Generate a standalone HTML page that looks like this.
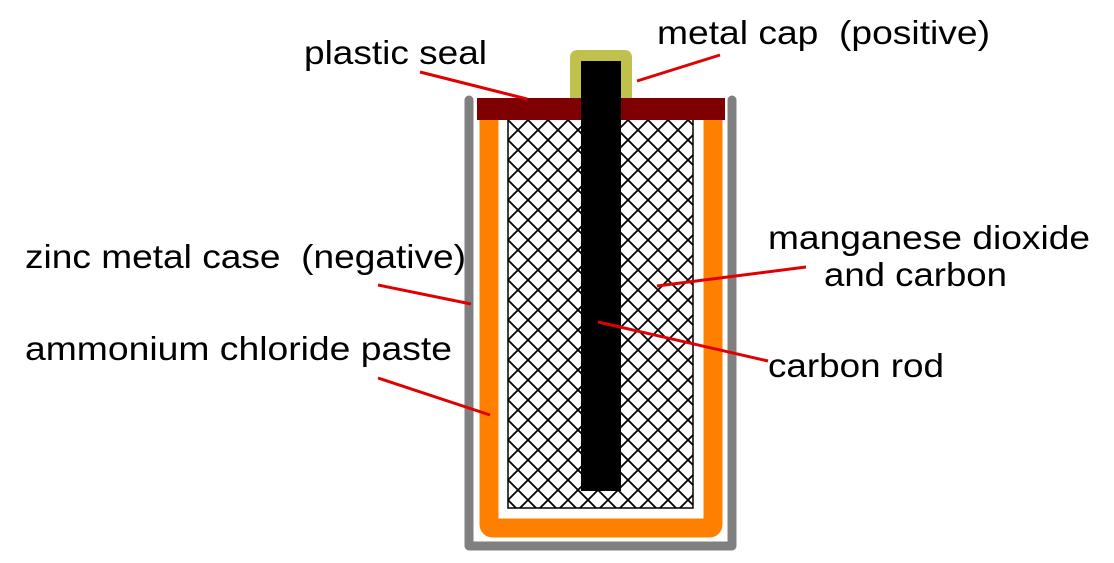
<!DOCTYPE html>
<html><head><meta charset="utf-8"><style>html,body{margin:0;padding:0;background:#fff}svg{display:block}</style></head>
<body>
<svg width="1114" height="563" viewBox="0 0 1114 563" xmlns="http://www.w3.org/2000/svg">
<defs>
<pattern id="h" width="20" height="20" patternUnits="userSpaceOnUse" x="508" y="120">
<rect width="20" height="20" fill="#fff"/>
<path d="M-2,-2L22,22M22,-2L-2,22" stroke="#000" stroke-width="1.8"/>
</pattern>
</defs>
<path d="M469,100 V546 H732 V100" fill="none" stroke="#808080" stroke-width="9" stroke-linecap="round" stroke-linejoin="round"/>
<path d="M489,115 V524 Q489,528 493,528 H709 Q713,528 713,524 V115" fill="none" stroke="#ff8000" stroke-width="19" stroke-linejoin="round"/>
<rect x="508" y="118" width="185" height="390" fill="url(#h)" stroke="#000" stroke-width="1.5"/>
<rect x="477" y="98" width="248" height="22" fill="#7f0000"/>
<path d="M570,98 V58 Q570,50 578,50 H624 Q632,50 632,58 V98 Z" fill="#c0c04c"/>
<rect x="581" y="61" width="40" height="430" fill="#000"/>
<g stroke="#e00000" stroke-width="3">
<line x1="420" y1="72" x2="527" y2="99"/>
<line x1="637" y1="81" x2="720" y2="55"/>
<line x1="378" y1="285" x2="471" y2="304"/>
<line x1="378" y1="378" x2="490" y2="415"/>
<line x1="657" y1="286" x2="806" y2="267"/>
<line x1="598" y1="322" x2="768" y2="361"/>
</g>
<g font-family="Liberation Sans, Arial, sans-serif" font-size="33" fill="#000">
<text x="304" y="64" textLength="183" lengthAdjust="spacingAndGlyphs">plastic seal</text>
<text x="657" y="44" textLength="333" lengthAdjust="spacingAndGlyphs" xml:space="preserve">metal cap  (positive)</text>
<text x="25" y="268" textLength="441" lengthAdjust="spacingAndGlyphs" xml:space="preserve">zinc metal case  (negative)</text>
<text x="25" y="360" textLength="427" lengthAdjust="spacingAndGlyphs">ammonium chloride paste</text>
<text x="768" y="249" textLength="322" lengthAdjust="spacingAndGlyphs">manganese dioxide</text>
<text x="824" y="286" textLength="183" lengthAdjust="spacingAndGlyphs">and carbon</text>
<text x="768" y="377" textLength="176" lengthAdjust="spacingAndGlyphs">carbon rod</text>
</g>
</svg>
</body></html>
